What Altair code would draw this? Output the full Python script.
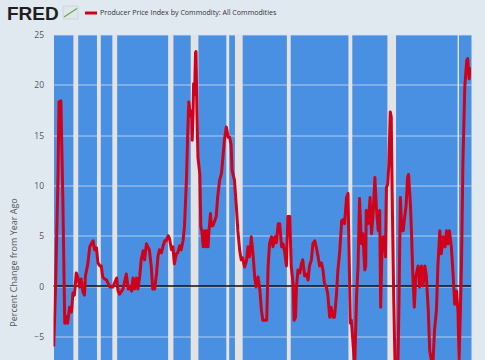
import altair as alt
import pandas as pd

# ---- data (percent change from year ago) ----
months_1950s = ["1950-02","1950-06","1950-11","1951-01","1951-05","1951-09","1952-01","1952-04","1952-07","1952-11",
                "1953-03","1953-06","1953-09","1954-01","1954-04","1954-08","1954-11","1955-03","1955-06","1955-08",
                "1956-01","1956-05","1956-08","1956-12","1957-03","1957-07","1957-10","1958-02","1958-05","1958-08",
                "1958-12","1959-04","1959-07","1959-11"]
values_1950s = [-6.0, 0.0, 11.0, 18.3, 18.4, 8.8, -3.7, -3.0, -3.7, -2.1,
                -2.6, -0.7, -0.9, 1.3, 0.9, -0.1, 0.7, -0.6, -0.9, 1.0,
                2.2, 3.9, 4.2, 4.5, 3.6, 3.8, 2.3, 2.0, 2.0, 0.9,
                0.7, 0.6, 0.3, -0.1]

months_1960s = ["1960-05","1961-01","1961-04","1961-07","1962-02","1962-09","1963-01","1963-04","1963-08","1963-11",
                "1964-02","1964-06","1964-09","1965-01","1965-04","1965-08","1965-11","1966-03","1966-06","1966-09",
                "1967-01","1967-04","1967-08","1967-12","1968-03","1968-06","1968-10","1969-01","1969-05","1969-08",
                "1969-12"]
values_1960s = [-0.1, 0.8, -0.5, -0.8, -0.3, 1.2, -0.3, 0.0, -0.5, 0.8,
                -0.3, 0.8, -0.3, 1.0, 2.6, 3.5, 2.6, 4.2, 3.9, 3.6,
                1.9, -0.3, -0.3, 1.3, 3.0, 3.6, 3.3, 3.9, 4.5, 4.5,
                5.0]

months_1970s = ["1970-03","1970-07","1970-10","1971-01","1971-05","1971-08","1971-12","1972-03","1972-07","1972-10",
                "1973-02","1973-05","1973-07","1973-10","1974-01","1974-02","1974-04","1974-05","1974-07","1974-09",
                "1974-10","1974-12","1975-02","1975-06","1975-08","1975-10","1976-01","1976-02","1976-04","1976-06",
                "1976-09","1976-11","1977-01","1977-04","1977-06","1977-09","1978-01","1978-04","1978-07","1978-11",
                "1979-03","1979-06","1979-09"]
values_1970s = [4.7, 3.6, 3.9, 2.2, 3.2, 3.3, 4.0, 3.6, 4.5, 5.9,
                10.5, 15.5, 18.3, 16.9, 17.4, 14.5, 17.5, 20.1, 19.0, 23.2,
                23.3, 17.1, 12.8, 11.1, 5.9, 5.5, 3.9, 5.2, 5.5, 3.9,
                5.5, 3.9, 5.5, 7.2, 6.0, 6.0, 6.5, 6.9, 8.8, 10.5,
                11.2, 12.8, 14.5]

months_1980s = ["1980-01","1980-05","1980-08","1980-11","1981-01","1981-06","1981-10","1982-01","1982-05","1982-08",
                "1982-11","1983-03","1983-07","1983-10","1984-01","1984-04","1984-05","1984-09","1984-12","1985-03",
                "1985-07","1985-11","1986-02","1986-05","1986-09","1987-01","1987-04","1987-07","1987-11","1988-02",
                "1988-06","1988-09","1989-01","1989-04","1989-08","1989-11"]
values_1980s = [15.8, 14.8, 14.8, 14.0, 11.5, 10.5, 7.8, 5.5, 3.5, 2.6,
                2.8, 1.9, 2.5, 3.9, 2.9, 4.2, 4.9, 2.9, 0.9, -0.1,
                0.9, -0.5, -2.4, -3.4, -3.4, -3.4, 2.0, 4.2, 4.9, 3.9,
                4.9, 4.3, 6.2, 6.2, 3.9, 4.2]

months_1990s = ["1990-02","1990-06","1990-09","1991-01","1991-04","1991-08","1991-10","1992-01","1992-03","1992-06",
                "1992-10","1993-01","1993-04","1993-08","1993-12","1994-03","1994-06","1994-10","1995-01","1995-05",
                "1995-08","1995-12","1996-03","1996-07","1996-10","1997-01","1997-05","1997-08","1997-12","1998-03",
                "1998-07","1998-10","1999-02","1999-05","1999-09"]
values_1990s = [3.5, 2.0, 6.9, 6.9, 2.0, 0.2, -3.4, -3.1, -0.1, 1.6,
                1.3, 2.2, 2.6, 1.0, 1.2, 0.6, 2.0, 2.6, 4.2, 4.5,
                3.9, 2.9, 2.0, 2.3, 1.6, 0.3, -0.1, -0.8, -3.1, -2.1,
                -3.1, -3.1, -0.9, 1.5, 3.5]

months_2000s = ["2000-01","2000-04","2000-07","2000-11","2001-02","2001-04","2001-07","2001-09","2002-01","2002-04",
                "2002-08","2002-11","2003-02","2003-06","2003-09","2004-01","2004-03","2004-04","2004-08","2004-12",
                "2005-03","2005-06","2005-10","2006-01","2006-05","2006-08","2006-10","2007-01","2007-03","2007-06",
                "2007-08","2007-10","2008-01","2008-03","2008-06","2008-08","2008-10","2009-01","2009-04","2009-07",
                "2009-10","2009-12"]
values_2000s = [6.5, 6.6, 6.2, 8.8, 9.2, 4.2, -3.7, -3.4, -6.0, -8.0,
                -0.9, 2.0, 8.7, 4.2, 5.2, 1.6, 2.0, 7.5, 6.2, 8.8,
                5.2, 6.9, 10.8, 7.8, 5.5, 7.5, -2.1, 4.2, 4.9, 4.2,
                2.9, 9.8, 10.2, 12.1, 17.3, 16.8, 8.8, -0.9, -8.0, -9.5,
                -7.5, -2.0]

months_2010s = ["2010-03","2010-06","2010-09","2010-12","2011-03","2011-06","2011-08","2011-12","2012-02","2012-05",
                "2012-08","2012-11","2013-04","2013-07","2013-11","2014-02","2014-06","2014-09","2015-01","2015-04",
                "2015-08","2015-11","2016-02","2016-06","2016-09","2017-01","2017-04","2017-08","2017-12","2018-03",
                "2018-06","2018-09","2019-01","2019-05","2019-08","2019-12"]
values_2010s = [8.8, 5.5, 5.5, 6.9, 8.0, 10.8, 11.1, 8.0, 5.5, 0.9,
                -2.1, 1.0, 2.0, -0.1, 2.0, 0.0, 2.0, 1.0, -2.4, -6.4,
                -7.5, -7.5, -4.4, -2.4, 2.0, 5.5, 3.2, 4.9, 3.9, 5.5,
                4.2, 5.5, 3.9, 0.9, -1.8, -0.5]

months_2020s = ["2020-03","2020-05","2020-07","2020-10","2021-01","2021-05","2021-09","2021-11","2022-02","2022-04",
                "2022-05"]
values_2020s = [-2.7, -7.5, -4.0, 2.0, 12.1, 19.8, 22.4, 22.6, 20.6, 21.6,
                21.0]

# NBER recessions (shaded)
rec_start = ["1953-07-01","1957-08-01","1960-04-01","1969-12-01","1973-11-01","1980-01-01",
             "1981-07-01","1990-07-01","2001-03-01","2007-12-01","2020-02-01"]
rec_end = ["1954-05-01","1958-04-01","1961-02-01","1970-11-01","1975-03-01","1980-07-01",
           "1982-11-01","1991-03-01","2001-11-01","2009-06-01","2020-04-30"]

y_ticks = [-5, 0, 5, 10, 15, 20, 25]
series_name = "Producer Price Index by Commodity: All Commodities"
y_title = "Percent Change from Year Ago"

months = months_1950s + months_1960s + months_1970s + months_1980s + months_1990s + months_2000s + months_2010s + months_2020s
values = values_1950s + values_1960s + values_1970s + values_1980s + values_1990s + values_2000s + values_2010s + values_2020s

df = pd.DataFrame({"date": pd.to_datetime([m + "-01" for m in months]), "value": values})
rec = pd.DataFrame({"start": pd.to_datetime(rec_start), "end": pd.to_datetime(rec_end)})

W, H = 417.5, 325.5
FONT = "Open Sans"

x_scale = alt.Scale(domain=[alt.DateTime(year=1950, month=1, date=19),
                            alt.DateTime(year=2022, month=5, date=29)])
y_scale = alt.Scale(domain=[-7.35, 25], nice=False, zero=False)
y_axis = alt.Axis(values=y_ticks, grid=True, gridColor="#d2e2f7", gridWidth=1, gridOpacity=0.75,
                  domain=False, ticks=False, labelPadding=10, labelFontSize=8.5,
                  labelColor="#555555", labelFont=FONT,
                  title=y_title, titleFont=FONT, titleFontSize=9, titleFontWeight="normal",
                  titleColor="#555555", titleX=-35, titleY=227.5, titleAngle=-90,
                  titleAlign="center", titleBaseline="bottom")

recessions = alt.Chart(rec).mark_rect(color="#e3e3e3", clip=True).encode(
    x=alt.X("start:T", scale=x_scale, axis=None),
    x2="end:T",
    y=alt.value(0),
    y2=alt.value(H),
)

zero = alt.Chart(pd.DataFrame({"v": [0]})).mark_rule(color="#111111", strokeWidth=1.5).encode(
    y=alt.Y("v:Q", scale=y_scale, axis=y_axis)
)

line = alt.Chart(df).mark_line(color="#d0021b", strokeWidth=3, clip=True, strokeJoin="round").encode(
    x=alt.X("date:T", scale=x_scale, axis=None),
    y=alt.Y("value:Q", scale=y_scale, axis=y_axis),
)

hdr = pd.DataFrame({"logo": ["FRED"], "name": [series_name]})
logo = alt.Chart(hdr).mark_text(font="Liberation Sans", fontWeight="bold", fontSize=19,
                                color="#1f1f1f", align="left", baseline="alphabetic").encode(
    x=alt.value(-46.5), y=alt.value(-14.5), text="logo:N")
icon_box = alt.Chart(hdr).mark_rect(fill="#dfe6ec", stroke="#b9c4ce", strokeWidth=0.5).encode(
    x=alt.value(9.5), x2=alt.value(24.5), y=alt.value(-28.5), y2=alt.value(-15.5))
icon_line = alt.Chart(hdr).mark_rule(color="#6aa84f", strokeWidth=1.2).encode(
    x=alt.value(10.5), x2=alt.value(23.5), y=alt.value(-17.5), y2=alt.value(-26))
legend_swatch = alt.Chart(hdr).mark_rect(color="#d0021b").encode(
    x=alt.value(31.5), x2=alt.value(43.5), y=alt.value(-23), y2=alt.value(-20))
legend_text = alt.Chart(hdr).mark_text(font=FONT, fontSize=7.1, color="#333333",
                                       align="left", baseline="middle").encode(
    x=alt.value(46.5), y=alt.value(-21.5), text="name:N")

chart = alt.layer(recessions, zero, line, logo, icon_box, icon_line, legend_swatch, legend_text).properties(
    width=W, height=H,
    background="#e1e9f0",
    autosize=alt.AutoSizeParams(type="none"),
    padding={"left": 53.5, "top": 34.5, "right": 14, "bottom": 0},
).configure_view(fill="#4a90e2", stroke="transparent")

chart.save("out.html", embed_options={"renderer": "svg", "actions": False})
